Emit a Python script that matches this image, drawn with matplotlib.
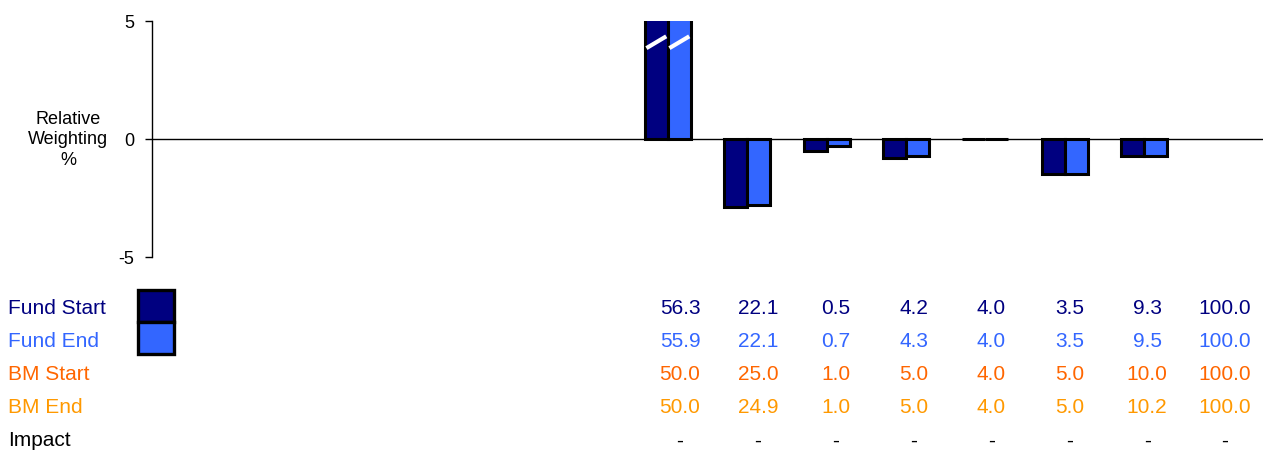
import numpy as np
import matplotlib.pyplot as plt
from matplotlib.patches import Rectangle
from matplotlib.transforms import blended_transform_factory

plt.rcParams['font.family'] = ['Liberation Sans', 'DejaVu Sans']

# table values (%), 8 columns, last one is the total
fund_start = [56.3, 22.1, 0.5, 4.2, 4.0, 3.5, 9.3, 100.0]
fund_end = [55.9, 22.1, 0.7, 4.3, 4.0, 3.5, 9.5, 100.0]
bm_start = [50.0, 25.0, 1.0, 5.0, 4.0, 5.0, 10.0, 100.0]
bm_end = [50.0, 24.9, 1.0, 5.0, 4.0, 5.0, 10.2, 100.0]
impact = ['-', '-', '-', '-', '-', '-', '-', '-']

row_names = ['Fund Start', 'Fund End', 'BM Start', 'BM End', 'Impact']
row_colors = ['#000080', '#3366FF', '#FF6600', '#FF9900', '#000000']

dark = '#000080'
light = '#3366FF'

n_slots = 14       # category slots on the x axis
first_slot = 6     # bars start at this slot
n_bars = 7         # total column has no bar

rel_start = np.round(np.array(fund_start[:n_bars]) - np.array(bm_start[:n_bars]), 1)
rel_end = np.round(np.array(fund_end[:n_bars]) - np.array(bm_end[:n_bars]), 1)

fig = plt.figure(figsize=(12.67, 4.52), dpi=100)
ax = fig.add_axes([152 / 1267, 1 - 258 / 452, 1111 / 1267, 236 / 452])

x = np.arange(n_bars) + first_slot
w = 0.29
ax.bar(x - w / 2, rel_start, width=w, color=dark, edgecolor='black', linewidth=2.2, zorder=3)
ax.bar(x + w / 2, rel_end, width=w, color=light, edgecolor='black', linewidth=2.2, zorder=3)

# break marks on bars running off the top of the scale
ymax = 5
for xs, vals in [(x - w / 2, rel_start), (x + w / 2, rel_end)]:
    for xi, v in zip(xs, vals):
        if v > ymax:
            ax.plot([xi - w / 2 + 0.02, xi + w / 2 - 0.02], [3.85, 4.35],
                    color='white', linewidth=3, solid_capstyle='butt', zorder=4)

ax.axhline(0, color='black', linewidth=1.0, zorder=2)
ax.set_xlim(-0.5, n_slots - 0.5)
ax.set_ylim(-5, 5)
ax.set_yticks([-5, 0, 5])
ax.set_yticklabels(['-5', '0', '5'])
ax.set_xticks([])
for s in ['top', 'right', 'bottom']:
    ax.spines[s].set_visible(False)
ax.spines['left'].set_linewidth(1.0)
ax.tick_params(axis='y', direction='out', length=5, width=1.0, pad=8, labelsize=13)

fig.text(68 / 1267, 1 - 140 / 452, 'Relative\nWeighting\n%', ha='center', va='center',
         fontsize=13, linespacing=1.3)

# data table under the chart
trans = blended_transform_factory(ax.transAxes, fig.transFigure)
col_x = np.linspace((680 - 152) / 1111, (1225 - 152) / 1111, 8)
rows = [fund_start, fund_end, bm_start, bm_end, impact]
row_y = [1 - (309 + 33 * i) / 452 for i in range(5)]
for name, vals, col, y in zip(row_names, rows, row_colors, row_y):
    fig.text(8 / 1267, y, name, color=col, fontsize=15, ha='left', va='center')
    for cx, v in zip(col_x, vals):
        s = v if isinstance(v, str) else f'{v:.1f}'
        ax.text(cx, y, s, color=col, fontsize=15, ha='center', va='center',
                transform=trans, clip_on=False)

# legend swatches
fig.patches.append(Rectangle((138 / 1267, 1 - 323 / 452), 36 / 1267, 32 / 452,
                             transform=fig.transFigure, facecolor=dark,
                             edgecolor='black', linewidth=2.4))
fig.patches.append(Rectangle((138 / 1267, 1 - 355 / 452), 36 / 1267, 32 / 452,
                             transform=fig.transFigure, facecolor=light,
                             edgecolor='black', linewidth=2.4))

fig.savefig('out.png', dpi=100, facecolor='white')
